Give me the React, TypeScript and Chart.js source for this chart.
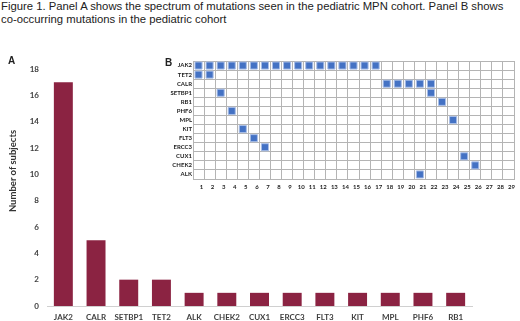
import React, { useEffect, useRef } from "react";
import { Chart, registerables } from "chart.js";

Chart.register(...registerables);

const TITLE_LINE1 = "Figure 1. Panel A shows the spectrum of mutations seen in the pediatric MPN cohort. Panel B shows";
const TITLE_LINE2 = "co-occurring mutations in the pediatric cohort";

const genes = ["JAK2", "CALR", "SETBP1", "TET2", "ALK", "CHEK2", "CUX1", "ERCC3", "FLT3", "KIT", "MPL", "PHF6", "RB1"];
const subjects = [17, 5, 2, 2, 1, 1, 1, 1, 1, 1, 1, 1, 1];
const yTicks = [0, 2, 4, 6, 8, 10, 12, 14, 16, 18];

const rowGenes = ["JAK2", "TET2", "CALR", "SETBP1", "RB1", "PHF6", "MPL", "KIT", "FLT3", "ERCC3", "CUX1", "CHEK2", "ALK"];
const patientIds = ["1","2","3","4","5","6","7","8","9","10","11","12","13","14","15","16","17","18","19","20","21","22","23","24","25","26","27","28","29"];
// patients carrying each mutation
const jak2Patients = [1, 2, 3, 4, 5, 6, 7, 8, 9, 10, 11, 12, 13, 14, 15, 16, 17];
const tet2Patients = [1, 2];
const calrPatients = [18, 19, 20, 21, 22];
const setbp1Patients = [3, 22];
const rb1Patients = [23];
const phf6Patients = [4];
const mplPatients = [24];
const kitPatients = [5];
const flt3Patients = [6];
const ercc3Patients = [7];
const cux1Patients = [25];
const chek2Patients = [26];
const alkPatients = [21];

const mutationRows: [string, number[]][] = [
  ["JAK2", jak2Patients],
  ["TET2", tet2Patients],
  ["CALR", calrPatients],
  ["SETBP1", setbp1Patients],
  ["RB1", rb1Patients],
  ["PHF6", phf6Patients],
  ["MPL", mplPatients],
  ["KIT", kitPatients],
  ["FLT3", flt3Patients],
  ["ERCC3", ercc3Patients],
  ["CUX1", cux1Patients],
  ["CHEK2", chek2Patients],
  ["ALK", alkPatients],
];

export default function App() {
  const refA = useRef<HTMLCanvasElement>(null);
  const refB = useRef<HTMLCanvasElement>(null);

  useEffect(() => {
    const tickFont = { family: "Lato, 'Liberation Sans', sans-serif", size: 8, weight: "bold" as const };
    const chartA = new Chart(refA.current!, {
      type: "bar",
      data: {
        labels: genes,
        datasets: [
          {
            data: subjects,
            backgroundColor: "#8B2342",
            borderWidth: 0,
            barPercentage: 0.58,
            categoryPercentage: 1,
          },
        ],
      },
      options: {
        animation: false,
        responsive: false,
        maintainAspectRatio: false,
        layout: { padding: { top: 69, right: 48, bottom: 0, left: 0 } },
        plugins: { legend: { display: false }, tooltip: { enabled: false }, title: { display: false } },
        scales: {
          x: {
            grid: { display: false, drawTicks: false },
            border: { display: true, color: "#d0d0d0", width: 1, dash: [2, 2] },
            ticks: { color: "#404040", font: tickFont, padding: 7, maxRotation: 0, autoSkip: false },
            afterFit: (s: any) => { s.height = 15; },
          },
          y: {
            min: 0,
            max: 18,
            afterBuildTicks: (s: any) => { s.ticks = yTicks.map((v) => ({ value: v })); },
            grid: { display: false, drawTicks: false },
            border: { display: false },
            ticks: { color: "#404040", font: tickFont, padding: 8 },
            afterFit: (s: any) => { s.width = 47; },
          },
        },
      },
    });

    const points: { x: string; y: string }[] = [];
    mutationRows.forEach(([gene, pts]) => {
      pts.forEach((p) => points.push({ x: String(p), y: gene }));
    });

    const smallFont = { family: "Lato, 'Liberation Sans', sans-serif", size: 6, weight: "bold" as const };
    const chartB = new Chart(refB.current!, {
      type: "scatter",
      data: {
        datasets: [
          {
            data: points as any,
            pointStyle: "rect",
            pointRadius: 5,
            backgroundColor: "#4472C4",
            borderColor: "#A9BEE6",
            borderWidth: 1,
          },
        ],
      },
      options: {
        animation: false,
        responsive: false,
        maintainAspectRatio: false,
        layout: { padding: { top: 11, right: 2, bottom: 0, left: 0 } },
        plugins: { legend: { display: false }, tooltip: { enabled: false } },
        scales: {
          x: {
            type: "category",
            labels: patientIds,
            offset: true,
            grid: { display: true, offset: true, color: "#b4b4b4", lineWidth: 1, drawTicks: false },
            border: { display: true, color: "#b4b4b4" },
            ticks: { color: "#222", font: smallFont, padding: 4, labelOffset: 3, maxRotation: 0, autoSkip: false },
            afterFit: (s: any) => { s.height = 16; },
          },
          y: {
            type: "category",
            labels: rowGenes,
            offset: true,
            grid: { display: true, offset: true, color: "#b4b4b4", lineWidth: 1, drawTicks: false },
            border: { display: true, color: "#b4b4b4" },
            ticks: { color: "#222", font: smallFont, padding: 1, autoSkip: false },
            afterFit: (s: any) => { s.width = 43; },
          },
        },
      },
    });

    return () => {
      chartA.destroy();
      chartB.destroy();
    };
  }, []);

  return (
    <div style={{ position: "fixed", left: 0, top: 0, width: 520, height: 321, background: "#fff", overflow: "hidden" }}>
      <div
        style={{
          position: "absolute",
          left: 1,
          top: 0,
          fontFamily: "'Liberation Sans', Arial, sans-serif",
          fontSize: 11.3,
          lineHeight: "12.5px",
          color: "#222",
          whiteSpace: "nowrap",
        }}
      >
        <div>{TITLE_LINE1}</div>
        <div>{TITLE_LINE2}</div>
      </div>
      <canvas ref={refA} width={520} height={321} style={{ position: "absolute", left: 0, top: 0, width: 520, height: 321 }} />
      <div
        style={{
          position: "absolute",
          left: 12,
          top: 171,
          transform: "translate(-50%, -50%) rotate(-90deg)",
          fontFamily: "Lato, 'Liberation Sans', sans-serif",
          fontWeight: "bold",
          fontSize: 9.5,
          color: "#333",
          whiteSpace: "nowrap",
        }}
      >
        Number of subjects
      </div>
      <div style={{ position: "absolute", left: 8, top: 55, fontFamily: "'Liberation Sans', Arial, sans-serif", fontWeight: "bold", fontSize: 10, color: "#222" }}>A</div>
      <canvas ref={refB} width={370} height={145} style={{ position: "absolute", left: 150, top: 50, width: 370, height: 145 }} />
      <div style={{ position: "absolute", left: 165, top: 57, fontFamily: "'Liberation Sans', Arial, sans-serif", fontWeight: "bold", fontSize: 10, color: "#222" }}>B</div>
    </div>
  );
}
